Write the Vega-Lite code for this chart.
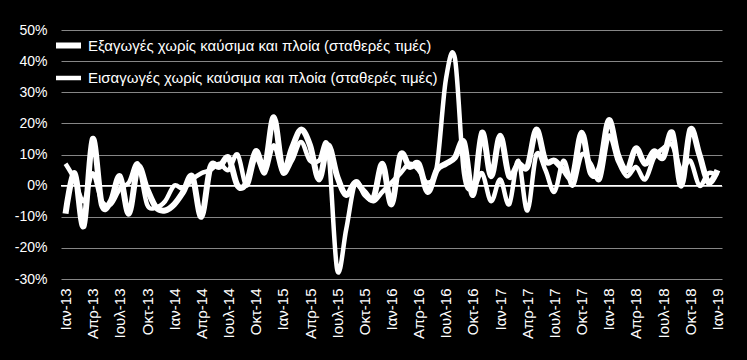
{
  "$schema": "https://vega.github.io/schema/vega-lite/v6.json",
  "width": 661,
  "height": 249,
  "autosize": {"type": "none"},
  "padding": {"left": 61, "top": 30, "right": 25, "bottom": 81},
  "background": "black",
  "config": {"view": {"stroke": null}, "font": "Liberation Sans"},
  "data": {"values": [
    {"m": "Ιαν-13", "Εξαγωγές": -9, "Εισαγωγές": 7},
    {"m": "Φεβ-13", "Εξαγωγές": 4, "Εισαγωγές": 2},
    {"m": "Μαρ-13", "Εξαγωγές": -13, "Εισαγωγές": -5},
    {"m": "Απρ-13", "Εξαγωγές": 15, "Εισαγωγές": 4},
    {"m": "Μαϊ-13", "Εξαγωγές": -6, "Εισαγωγές": -5},
    {"m": "Ιουν-13", "Εξαγωγές": -5, "Εισαγωγές": -6},
    {"m": "Ιουλ-13", "Εξαγωγές": 3, "Εισαγωγές": -1},
    {"m": "Αυγ-13", "Εξαγωγές": -9, "Εισαγωγές": 1},
    {"m": "Σεπ-13", "Εξαγωγές": 6, "Εισαγωγές": 7},
    {"m": "Οκτ-13", "Εξαγωγές": -1, "Εισαγωγές": -6},
    {"m": "Νοε-13", "Εξαγωγές": -7, "Εισαγωγές": -7},
    {"m": "Δεκ-13", "Εξαγωγές": -8, "Εισαγωγές": -5},
    {"m": "Ιαν-14", "Εξαγωγές": -6, "Εισαγωγές": 0},
    {"m": "Φεβ-14", "Εξαγωγές": -2, "Εισαγωγές": -1},
    {"m": "Μαρ-14", "Εξαγωγές": 3, "Εισαγωγές": 2},
    {"m": "Απρ-14", "Εξαγωγές": -10, "Εισαγωγές": 4},
    {"m": "Μαϊ-14", "Εξαγωγές": 6, "Εισαγωγές": 5},
    {"m": "Ιουν-14", "Εξαγωγές": 6, "Εισαγωγές": 7},
    {"m": "Ιουλ-14", "Εξαγωγές": 9, "Εισαγωγές": 5},
    {"m": "Αυγ-14", "Εξαγωγές": 0, "Εισαγωγές": 10},
    {"m": "Σεπ-14", "Εξαγωγές": 1, "Εισαγωγές": 0},
    {"m": "Οκτ-14", "Εξαγωγές": 11, "Εισαγωγές": 9},
    {"m": "Νοε-14", "Εξαγωγές": 6, "Εισαγωγές": 4},
    {"m": "Δεκ-14", "Εξαγωγές": 22, "Εισαγωγές": 13},
    {"m": "Ιαν-15", "Εξαγωγές": 5, "Εισαγωγές": 4},
    {"m": "Φεβ-15", "Εξαγωγές": 12, "Εισαγωγές": 8},
    {"m": "Μαρ-15", "Εξαγωγές": 18, "Εισαγωγές": 14},
    {"m": "Απρ-15", "Εξαγωγές": 13, "Εισαγωγές": 8},
    {"m": "Μαϊ-15", "Εξαγωγές": 2, "Εισαγωγές": 8},
    {"m": "Ιουν-15", "Εξαγωγές": 13, "Εισαγωγές": 12},
    {"m": "Ιουλ-15", "Εξαγωγές": 3, "Εισαγωγές": -27},
    {"m": "Αυγ-15", "Εξαγωγές": -3, "Εισαγωγές": -14},
    {"m": "Σεπ-15", "Εξαγωγές": 1, "Εισαγωγές": 1},
    {"m": "Οκτ-15", "Εξαγωγές": -2, "Εισαγωγές": -3},
    {"m": "Νοε-15", "Εξαγωγές": -4, "Εισαγωγές": -5},
    {"m": "Δεκ-15", "Εξαγωγές": 7, "Εισαγωγές": -2},
    {"m": "Ιαν-16", "Εξαγωγές": -6, "Εισαγωγές": 1},
    {"m": "Φεβ-16", "Εξαγωγές": 10, "Εισαγωγές": 4},
    {"m": "Μαρ-16", "Εξαγωγές": 6, "Εισαγωγές": 7},
    {"m": "Απρ-16", "Εξαγωγές": 7, "Εισαγωγές": 5},
    {"m": "Μαϊ-16", "Εξαγωγές": -2, "Εισαγωγές": 1},
    {"m": "Ιουν-16", "Εξαγωγές": 5, "Εισαγωγές": 6},
    {"m": "Ιουλ-16", "Εξαγωγές": 7, "Εισαγωγές": 34},
    {"m": "Αυγ-16", "Εξαγωγές": 9, "Εισαγωγές": 41},
    {"m": "Σεπ-16", "Εξαγωγές": 14, "Εισαγωγές": 4},
    {"m": "Οκτ-16", "Εξαγωγές": -3, "Εισαγωγές": -1},
    {"m": "Νοε-16", "Εξαγωγές": 17, "Εισαγωγές": 4},
    {"m": "Δεκ-16", "Εξαγωγές": 3, "Εισαγωγές": -5},
    {"m": "Ιαν-17", "Εξαγωγές": 16, "Εισαγωγές": 2},
    {"m": "Φεβ-17", "Εξαγωγές": 3, "Εισαγωγές": -6},
    {"m": "Μαρ-17", "Εξαγωγές": 7, "Εισαγωγές": 8},
    {"m": "Απρ-17", "Εξαγωγές": 6, "Εισαγωγές": -8},
    {"m": "Μαϊ-17", "Εξαγωγές": 18, "Εισαγωγές": 10},
    {"m": "Ιουν-17", "Εξαγωγές": 8, "Εισαγωγές": 5},
    {"m": "Ιουλ-17", "Εξαγωγές": 8, "Εισαγωγές": -2},
    {"m": "Αυγ-17", "Εξαγωγές": 5, "Εισαγωγές": 8},
    {"m": "Σεπ-17", "Εξαγωγές": 3, "Εισαγωγές": 0},
    {"m": "Οκτ-17", "Εξαγωγές": 17, "Εισαγωγές": 10},
    {"m": "Νοε-17", "Εξαγωγές": 4, "Εισαγωγές": 7},
    {"m": "Δεκ-17", "Εξαγωγές": 6, "Εισαγωγές": 2},
    {"m": "Ιαν-18", "Εξαγωγές": 21, "Εισαγωγές": 16},
    {"m": "Φεβ-18", "Εξαγωγές": 10, "Εισαγωγές": 8},
    {"m": "Μαρ-18", "Εξαγωγές": 5, "Εισαγωγές": 3},
    {"m": "Απρ-18", "Εξαγωγές": 12, "Εισαγωγές": 6},
    {"m": "Μαϊ-18", "Εξαγωγές": 7, "Εισαγωγές": 2},
    {"m": "Ιουν-18", "Εξαγωγές": 11, "Εισαγωγές": 9},
    {"m": "Ιουλ-18", "Εξαγωγές": 9, "Εισαγωγές": 12},
    {"m": "Αυγ-18", "Εξαγωγές": 17, "Εισαγωγές": 13},
    {"m": "Σεπ-18", "Εξαγωγές": 0, "Εισαγωγές": 5},
    {"m": "Οκτ-18", "Εξαγωγές": 18, "Εισαγωγές": 8},
    {"m": "Νοε-18", "Εξαγωγές": 10, "Εισαγωγές": 0},
    {"m": "Δεκ-18", "Εξαγωγές": 1, "Εισαγωγές": 4},
    {"m": "Ιαν-19", "Εξαγωγές": 5, "Εισαγωγές": 3}
  ]},
  "layer": [
    {
      "data": {"values": [{"v": 0}]},
      "mark": {"type": "rule", "color": "white", "strokeWidth": 1.5},
      "encoding": {
        "y": {
          "field": "v", "type": "quantitative",
          "scale": {"domain": [-30, 50], "nice": false, "zero": false},
          "axis": {
            "values": [-30, -20, -10, 0, 10, 20, 30, 40, 50],
            "labelExpr": "datum.value + '%'",
            "domain": false, "ticks": false, "grid": true,
            "gridColor": "#868686", "gridWidth": 1,
            "labelColor": "white", "labelFontSize": 14, "labelPadding": 14,
            "labelOverlap": false, "labelFlush": false,
            "title": null
          }
        }
      }
    },
    {
      "transform": [{"fold": ["Εξαγωγές", "Εισαγωγές"], "as": ["s", "v"]}],
      "mark": {"type": "line", "color": "white", "interpolate": "cardinal", "strokeJoin": "round", "strokeCap": "butt"},
      "encoding": {
        "x": {
          "field": "m", "type": "ordinal", "sort": null,
          "scale": {"type": "point", "padding": 0.5},
          "axis": {
            "values": ["Ιαν-13","Απρ-13","Ιουλ-13","Οκτ-13","Ιαν-14","Απρ-14","Ιουλ-14","Οκτ-14","Ιαν-15","Απρ-15","Ιουλ-15","Οκτ-15","Ιαν-16","Απρ-16","Ιουλ-16","Οκτ-16","Ιαν-17","Απρ-17","Ιουλ-17","Οκτ-17","Ιαν-18","Απρ-18","Ιουλ-18","Οκτ-18","Ιαν-19"],
            "labelAngle": -90, "domain": false, "ticks": false, "grid": false,
            "labelPadding": 9, "labelColor": "white", "labelFontSize": 15,
            "labelOverlap": false, "title": null
          }
        },
        "y": {
          "field": "v", "type": "quantitative",
          "scale": {"domain": [-30, 50], "nice": false, "zero": false},
          "axis": {
            "values": [-30, -20, -10, 0, 10, 20, 30, 40, 50],
            "labelExpr": "datum.value + '%'",
            "domain": false, "ticks": false, "grid": true,
            "gridColor": "#868686", "gridWidth": 1,
            "labelColor": "white", "labelFontSize": 14, "labelPadding": 14,
            "labelOverlap": false, "labelFlush": false,
            "title": null
          }
        },
        "strokeWidth": {
          "field": "s", "type": "ordinal",
          "scale": {"domain": ["Εξαγωγές", "Εισαγωγές"], "range": [6, 4.5]},
          "legend": {
            "orient": "none", "legendX": -8, "legendY": 0,
            "title": null, "padding": 0,
            "symbolType": "stroke", "symbolStrokeColor": "white", "symbolSize": 625,
            "labelColor": "white", "labelFontSize": 15, "labelOffset": 4, "labelLimit": 0,
            "rowPadding": 5,
            "labelExpr": "datum.label + ' χωρίς καύσιμα και πλοία (σταθερές τιμές)'"
          }
        }
      }
    }
  ]
}
